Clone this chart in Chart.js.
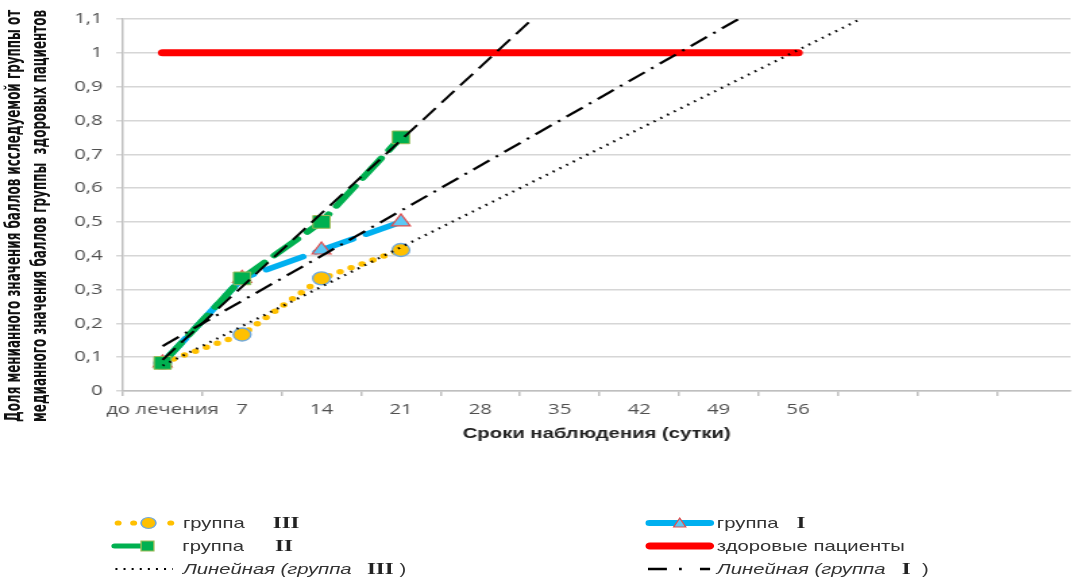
<!DOCTYPE html>
<html>
<head>
<meta charset="utf-8">
<script src="https://cdn.jsdelivr.net/npm/chart.js@4"></script>
<style>
  body { margin: 0; background: #fff; overflow: hidden; }
  /* картинка в оригинале растянута по горизонтали, поэтому рисуем в 803px и растягиваем */
  #wrap { position: relative; width: 803px; height: 577px; transform: scaleX(1.35); transform-origin: 0 0;
          font-family: 'Liberation Sans', Arial, sans-serif; color: #333; overflow: hidden; }
  #box { position: absolute; left: 0; top: 0; width: 803px; height: 460px; }
  #ytitle { position: absolute; left: 0; top: 0; transform-origin: 0 0;
            font-family: 'Liberation Sans Narrow', 'DejaVu Sans Condensed', sans-serif;
            font-weight: bold; font-size: 16px; line-height: 19.3px; color: #111; white-space: nowrap; }
  .lg { position: absolute; height: 20px; }
  .lg svg { position: absolute; top: 2px; }
  .t { position: absolute; top: 0; font-size: 15px; line-height: 20px; color: #333; white-space: nowrap; }
  .r { font-family: 'Liberation Serif', 'Times New Roman', serif; font-weight: bold; font-size: 17px; color: #222; }
  .i { font-style: italic; }
</style>
</head>
<body>
<div id="wrap">
  <div id="box"><canvas id="myChart"></canvas></div>
  <div id="ytitle"><span id="yl1">Доля менианного значения баллов исследуемой группы от</span><br><span>медианного значения баллов группы&nbsp; здоровых пациентов</span></div>

  <!-- левая колонка легенды -->
  <div class="lg" style="left:0;top:513px;width:400px">
    <svg style="left:81.5px" width="50" height="16">
      <circle cx="5.5" cy="8" r="2.6" fill="#FFC000"/>
      <circle cx="17" cy="8" r="2.6" fill="#FFC000"/>
      <circle cx="28" cy="8" r="5.5" fill="#FFC000" stroke="#6FA8DC" stroke-width="1.2"/>
      <circle cx="44.5" cy="8" r="2.6" fill="#FFC000"/>
    </svg>
    <span class="t" style="left:135.5px">группа</span>
    <span class="t r" style="left:202px">III</span>
  </div>
  <div class="lg" style="left:0;top:536px;width:400px">
    <svg style="left:81.5px" width="50" height="16">
      <line x1="3" y1="8" x2="28" y2="8" stroke="#00B050" stroke-width="5" stroke-linecap="round"/>
      <rect x="22.5" y="3" width="9.5" height="10" fill="#00B050" stroke="#9BBB59" stroke-width="1"/>
    </svg>
    <span class="t" style="left:135px">группа</span>
    <span class="t r" style="left:203.7px">II</span>
  </div>
  <div class="lg" style="left:0;top:559px;width:400px">
    <svg style="left:81.5px" width="50" height="16">
      <line x1="3.5" y1="8" x2="46" y2="8" stroke="#000" stroke-width="2" stroke-dasharray="1.5 4.5"/>
    </svg>
    <span class="t i" style="left:135.5px">Линейная (группа</span>
    <span class="t r" style="left:271.8px">III</span>
    <span class="t" style="left:296px">)</span>
  </div>

  <!-- правая колонка легенды -->
  <div class="lg" style="left:0;top:513px;width:803px">
    <svg style="left:478px" width="52" height="16">
      <line x1="3" y1="8" x2="48" y2="8" stroke="#00B0F0" stroke-width="6" stroke-linecap="round"/>
      <polygon points="25.5,3 30,12 21,12" fill="#5BC8F5" stroke="#E05050" stroke-width="1"/>
    </svg>
    <span class="t" style="left:531px">группа</span>
    <span class="t r" style="left:590px">I</span>
  </div>
  <div class="lg" style="left:0;top:536px;width:803px">
    <svg style="left:478px" width="52" height="16">
      <line x1="3.5" y1="8" x2="47.5" y2="8" stroke="#FF0000" stroke-width="7" stroke-linecap="round"/>
    </svg>
    <span class="t" style="left:531px">здоровые пациенты</span>
  </div>
  <div class="lg" style="left:0;top:559px;width:803px">
    <svg style="left:478px" width="52" height="16">
      <line x1="2" y1="8" x2="16" y2="8" stroke="#000" stroke-width="2.5"/>
      <line x1="25" y1="8" x2="27" y2="8" stroke="#000" stroke-width="2.5"/>
      <line x1="40.5" y1="8" x2="48" y2="8" stroke="#000" stroke-width="2.5"/>
    </svg>
    <span class="t i" style="left:531px">Линейная (группа</span>
    <span class="t r" style="left:668px">I</span>
    <span class="t" style="left:683px">)</span>
  </div>
</div>

<script>
// подписи оси X (сроки наблюдения)
const xLabels = ['до лечения', '7', '14', '21', '28', '35', '42', '49', '56'];
// деления оси Y
const yTicks = [0, 0.1, 0.2, 0.3, 0.4, 0.5, 0.6, 0.7, 0.8, 0.9, 1, 1.1];

// доли по группам (до лечения, 7, 14, 21 сутки)
const groupIII = [0.083, 0.167, 0.333, 0.417];
const groupI = [0.083, 0.333, 0.417, 0.5];
const groupII = [0.083, 0.333, 0.5, 0.75];
// здоровые пациенты
const healthy = [1, 1, 1, 1, 1, 1, 1, 1, 1];

// линии тренда: номер срока начала и конца, значения на концах
const trendIIIx = [1, 10];
const trendIII = [0.075, 1.125];
const trendIx = [1, 9];
const trendI = [0.133, 1.2];
const trendIIx = [1, 6];
const trendII = [0.092, 1.175];

// подпись оси Y: поворот и подгонка длины строки
const yt = document.getElementById('ytitle');
const sx = 412 / document.getElementById('yl1').offsetWidth;
yt.style.transform = 'translate(0px, 422px) rotate(-90deg) scale(' + sx + ', 1)';

// срок i -> точка {x, y}
const pts = (arr) => arr.map((v, i) => ({ x: i + 1, y: v }));
const pairs = (xs, ys) => xs.map((x, i) => ({ x: x, y: ys[i] }));

const tickFont = { family: "'Open Sans', 'Liberation Sans', sans-serif", size: 15 };

const ctx = document.getElementById('myChart').getContext('2d');
const chart = new Chart(ctx, {
    type: 'line',
    data: {
        datasets: [
            {
                label: 'Линейная (группа II)', data: pairs(trendIIx, trendII), order: 1,
                borderColor: '#000', borderWidth: 2, borderDash: [15, 7], pointRadius: 0
            },
            {
                label: 'Линейная (группа I)', data: pairs(trendIx, trendI), order: 2,
                borderColor: '#000', borderWidth: 2.2, borderDash: [15, 6, 2, 6], pointRadius: 0
            },
            {
                label: 'Линейная (группа III)', data: pairs(trendIIIx, trendIII), order: 3,
                borderColor: '#000', borderWidth: 2.2, borderDash: [1.5, 4.5], pointRadius: 0
            },
            {
                label: 'группа II', data: pts(groupII), order: 4,
                borderColor: '#00B050', borderWidth: 5.5, borderDash: [24, 10], borderCapStyle: 'round',
                pointStyle: 'rect', pointRadius: 9, pointBackgroundColor: '#00B050',
                pointBorderColor: '#9BBB59', pointBorderWidth: 1
            },
            {
                label: 'группа I', data: pts(groupI), order: 5,
                borderColor: '#00B0F0', borderWidth: 5.5, borderDash: [30, 11], borderCapStyle: 'round',
                pointStyle: 'triangle', pointRadius: 8, pointBackgroundColor: '#5BC8F5',
                pointBorderColor: '#E05050', pointBorderWidth: 1.2
            },
            {
                label: 'группа III', data: pts(groupIII), order: 6,
                borderColor: '#FFC000', borderWidth: 5.5, borderDash: [0, 9], borderCapStyle: 'round',
                pointStyle: 'circle', pointRadius: 6.5, pointBackgroundColor: '#FFC000',
                pointBorderColor: '#6FA8DC', pointBorderWidth: 1.3
            },
            {
                label: 'здоровые пациенты', data: pts(healthy), order: 7,
                borderColor: '#FF0000', borderWidth: 7, borderCapStyle: 'round', pointRadius: 0
            }
        ]
    },
    options: {
        responsive: true,
        maintainAspectRatio: false,
        animation: false,
        layout: { padding: { left: 45, top: 9, right: 0, bottom: 17 } },
        plugins: { legend: { display: false }, tooltip: { enabled: false } },
        scales: {
            x: {
                type: 'linear', min: 0.5, max: 12.43,
                afterBuildTicks: (s) => {
                    const t = [];
                    for (let v = 0.5; v <= 12; v += 0.5) t.push({ value: v });
                    s.ticks = t;
                },
                ticks: {
                    autoSkip: false, maxRotation: 0, padding: 5,
                    color: '#505050', font: tickFont,
                    callback: (v) => (Number.isInteger(v) && v <= xLabels.length) ? xLabels[v - 1] : ''
                },
                grid: {
                    drawOnChartArea: false, drawTicks: true, tickLength: 5, lineWidth: 1.5,
                    tickColor: (c) => Number.isInteger(c.tick.value) ? 'rgba(0,0,0,0)' : '#bfbfbf'
                },
                border: { color: '#bfbfbf', width: 1.5 },
                title: {
                    display: true, text: 'Сроки наблюдения (сутки)', color: '#222',
                    font: { family: 'Liberation Sans', size: 15, weight: 'bold' }, padding: { top: 1, bottom: 0 }
                }
            },
            y: {
                min: 0, max: 1.1,
                afterBuildTicks: (s) => { s.ticks = yTicks.map(v => ({ value: v })); },
                ticks: {
                    padding: 10, color: '#505050', font: tickFont,
                    callback: (v) => String(Math.round(v * 10) / 10).replace('.', ',')
                },
                grid: { color: '#d6d6d6', lineWidth: 1.5, tickLength: 5 },
                border: { color: '#bfbfbf', width: 1.5 }
            }
        }
    }
});
</script>
</body>
</html>
